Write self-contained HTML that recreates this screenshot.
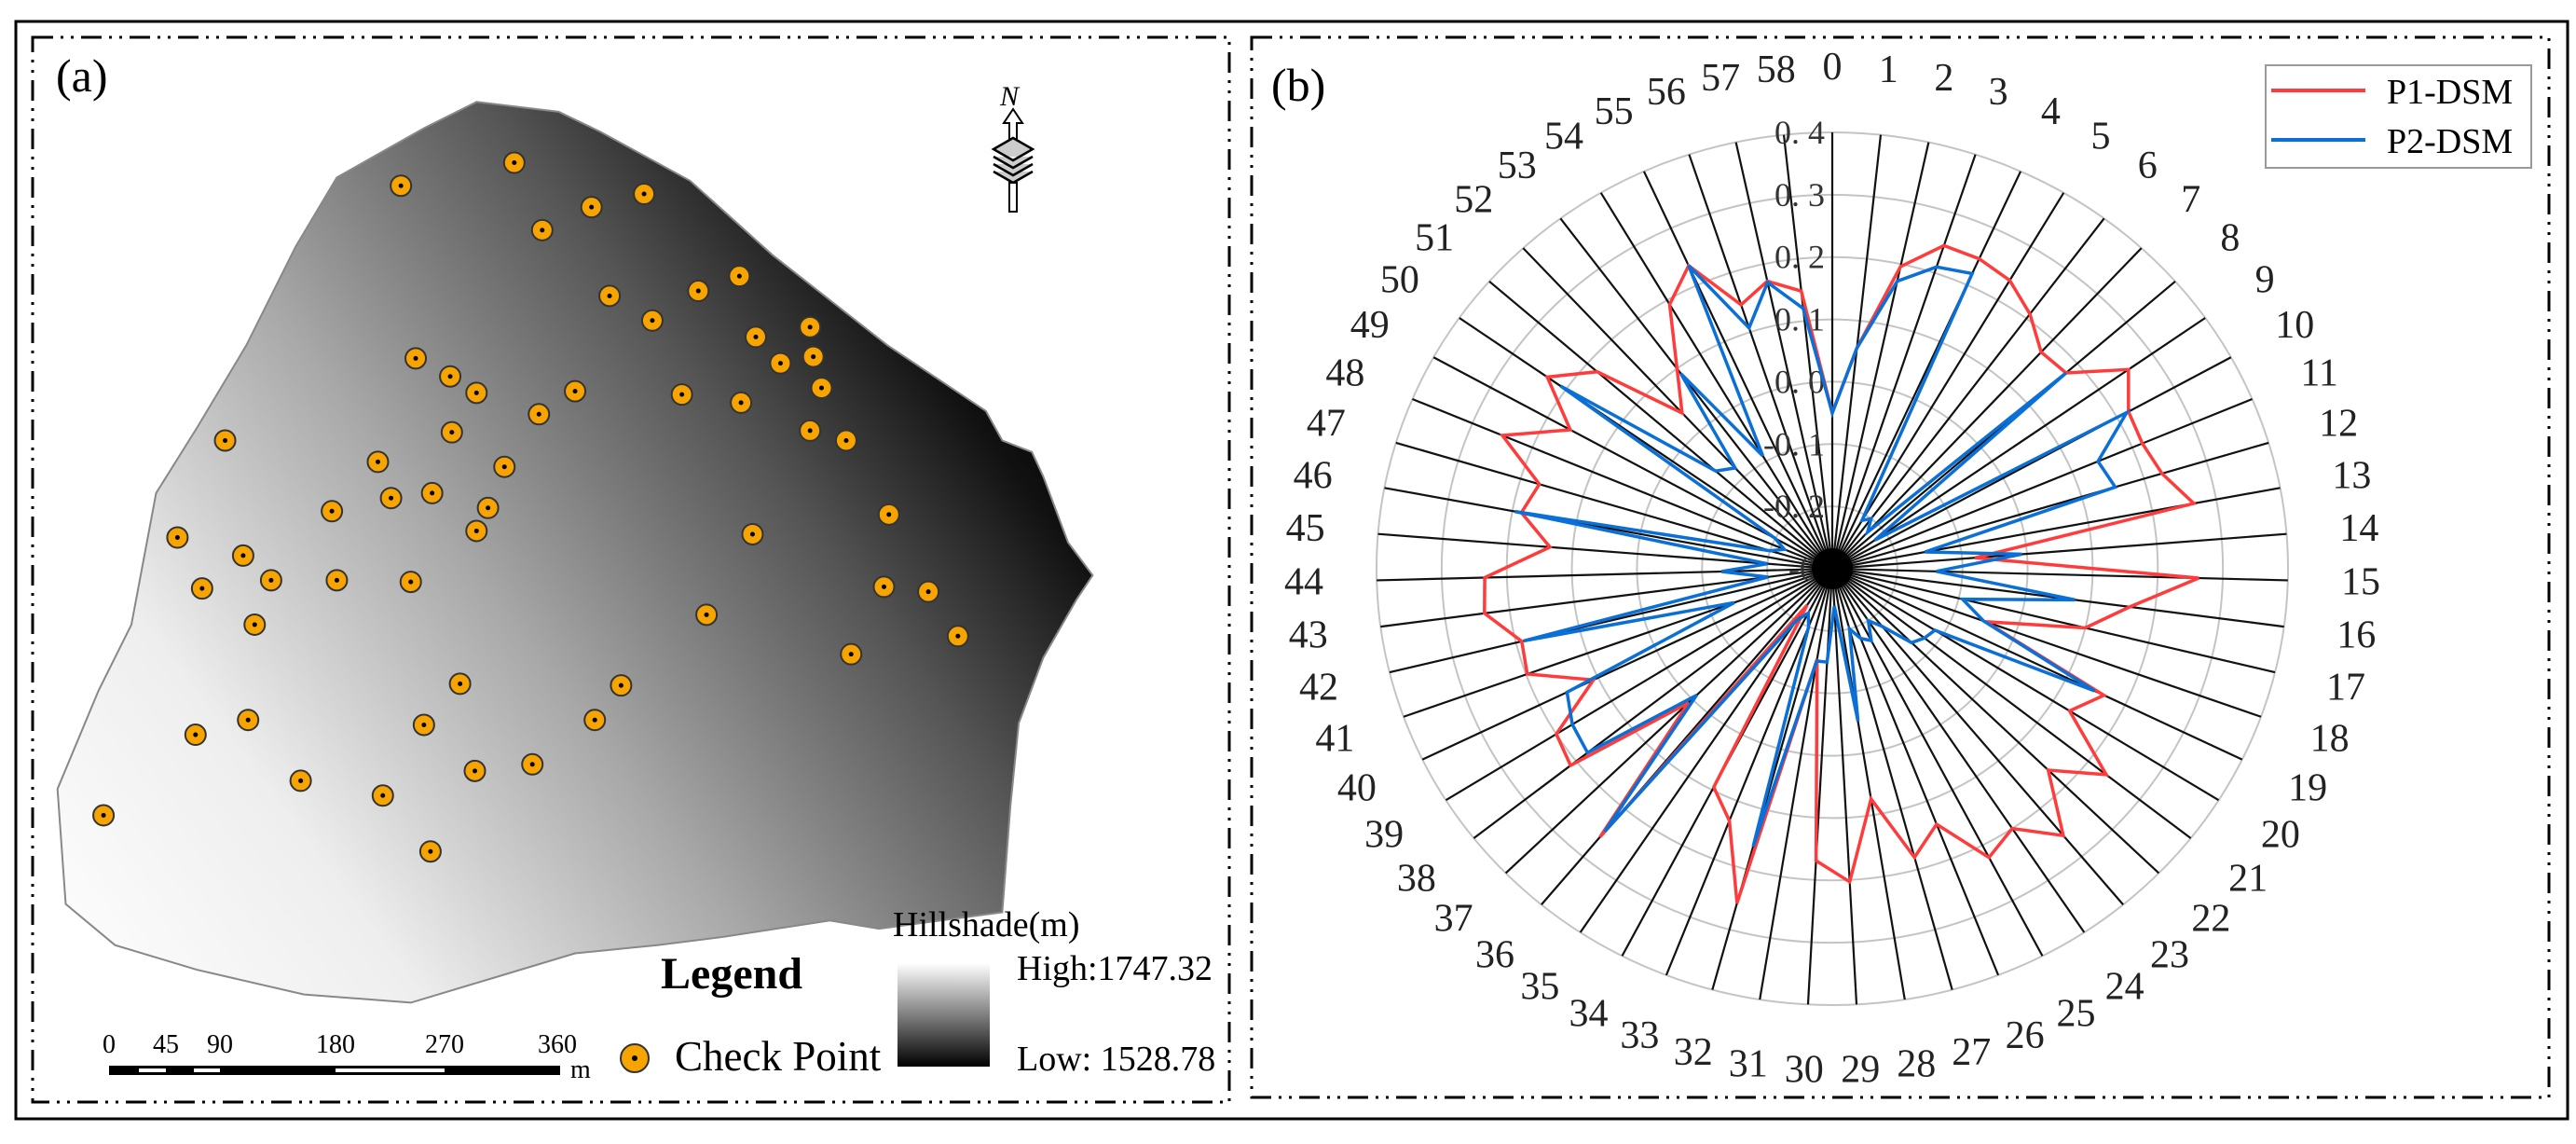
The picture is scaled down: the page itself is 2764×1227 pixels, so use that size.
<!DOCTYPE html>
<html><head><meta charset="utf-8"><style>
html,body{margin:0;padding:0;background:#fff}
svg{display:block}
text{font-family:"Liberation Serif",serif}
</style></head><body>
<svg id="root" width="2764" height="1227" viewBox="0 0 2764 1227" xmlns="http://www.w3.org/2000/svg">
<defs>
<linearGradient id="dem" x1="0.0" y1="1.0" x2="1" y2="0.35">
<stop offset="0" stop-color="#ffffff"/><stop offset="0.25" stop-color="#eeeeee"/>
<stop offset="0.5" stop-color="#a8a8a8"/><stop offset="0.75" stop-color="#555"/><stop offset="0.92" stop-color="#111"/><stop offset="1" stop-color="#000"/>
</linearGradient>
<linearGradient id="cbar" x1="0" y1="0" x2="0" y2="1"><stop offset="0" stop-color="#fff"/><stop offset="1" stop-color="#000"/></linearGradient>
</defs>
<rect x="17" y="23" width="2738" height="1177" fill="none" stroke="#000" stroke-width="3"/>
<rect x="35" y="40" width="1284" height="1142" fill="none" stroke="#000" stroke-width="3" stroke-dasharray="22,8,3,8,3,8"/>
<rect x="1343" y="40" width="1392" height="1137" fill="none" stroke="#000" stroke-width="3" stroke-dasharray="22,8,3,8,3,8"/>
<text x="60" y="98" font-size="50">(a)</text>
<text x="1364" y="108" font-size="50">(b)</text>

<g id="map"></g>
<g>
<text x="1073" y="113" font-size="30" font-style="italic" font-family="Liberation Sans">N</text>
<path d="M1087 117 L1097 132 L1091 132 L1091 150 L1083 150 L1083 132 L1077 132 Z" fill="#fff" stroke="#000" stroke-width="2"/>
<path d="M1066 160 L1087 148 L1108 160 L1087 172 Z M1066 168 L1087 180 L1108 168 M1066 176 L1087 188 L1108 176 M1066 184 L1087 196 L1108 184" fill="#ccc" stroke="#000" stroke-width="2.5"/>
<rect x="1083" y="196" width="8" height="31" fill="#fff" stroke="#000" stroke-width="2"/>
</g>
<text x="709" y="1060" font-size="48" font-weight="bold">Legend</text>
<text x="958" y="1004" font-size="38">Hillshade(m)</text>
<rect x="963" y="1033" width="99" height="111" fill="url(#cbar)"/>
<text x="1091" y="1051" font-size="38">High:1747.32</text>
<text x="1091" y="1148" font-size="38">Low: 1528.78</text>
<g>
<circle cx="681" cy="1135" r="15" fill="#f7a400" stroke="#333" stroke-width="2"/><circle cx="681" cy="1135" r="3" fill="#000"/>
<text x="724" y="1148" font-size="45">Check Point</text></g>
<g id="scalebar">
<rect x="117" y="1143" width="484" height="10" fill="#000"/>
<rect x="149" y="1146" width="29" height="4" fill="#fff"/><rect x="208" y="1146" width="28" height="4" fill="#fff"/><rect x="360" y="1146" width="117" height="4" fill="#fff"/>
<g font-size="28" text-anchor="middle"><text x="117" y="1129">0</text><text x="178" y="1129">45</text><text x="236" y="1129">90</text><text x="360" y="1129">180</text><text x="477" y="1129">270</text><text x="598" y="1129">360</text></g>
<text x="612" y="1156" font-size="28">m</text></g>

<g id="radar"></g>
<g>
<rect x="2431" y="70" width="285" height="110" fill="#fff" stroke="#999" stroke-width="2"/>
<line x1="2437" y1="97" x2="2538" y2="97" stroke="#ff3b3b" stroke-width="4"/>
<line x1="2437" y1="150" x2="2538" y2="150" stroke="#0a6fd6" stroke-width="4"/>
<text x="2561" y="111" font-size="38" font-family="Liberation Mono">P1-DSM</text>
<text x="2561" y="164" font-size="38" font-family="Liberation Mono">P2-DSM</text>
</g>
</svg>
<script>
const categories = Array.from({length:59},(_,i)=>String(i));
const p1Values = [-0.05,0.056,0.196,0.246,0.246,0.237,0.209,0.173,0.177,0.256,0.22,0.217,0.229,0.265,-0.08,0.263,0.161,0.10,-0.05,0.164,0.13,0.235,0.163,0.256,0.20,0.222,0.14,0.18,0.074,0.203,0.169,-0.153,0.256,0.134,0.095,-0.23,0.259,0.008,0.211,0.20,0.108,0.198,0.191,0.239,0.234,0.135,0.186,0.17,0.25,0.16,0.235,0.18,0.04,0.10,0.192,0.234,0.146,0.172,0.148];
const p2Values = [-0.05,0.056,0.172,0.21,0.22,-0.21,-0.2,-0.22,0.177,-0.22,0.217,0.143,0.154,-0.155,-0.008,-0.14,0.076,-0.094,-0.053,0.148,-0.114,-0.12,-0.13,-0.18,-0.2,-0.17,-0.18,-0.2,-0.052,-0.24,-0.15,-0.15,0.162,-0.2,-0.22,-0.2,0.248,-0.009,0.178,0.171,0.153,-0.14,0.188,-0.2,-0.13,-0.2,0.196,-0.2,-0.22,-0.2,0.21,-0.062,-0.08,0.09,-0.09,0.234,0.107,0.17,0.12];
const ringTicks = [-0.2,-0.1,0.0,0.1,0.2,0.3,0.4];
const tickLabels = ["-0.","-0. 2","-0. 1","0. 0","0. 1","0. 2","0. 3","0. 4"];
const checkPointsX = [244,313,360,392,330,371,397,425,450,460,475,493,495,500,253,274,290,350,328,415,451,493,515,137,230,275,307,263,238,297,202,290,108,148,165,205,250,123,155,458,430,541,538,565,583,518,280,378,362,258,151,119,183,233,289,324,63,262];
const checkPointsY = [113,99,126,118,140,180,195,177,168,205,221,199,217,236,218,229,239,238,252,240,245,262,268,268,281,263,284,300,303,309,311,323,327,338,353,353,354,358,380,325,374,313,357,360,387,398,416,417,438,441,438,447,475,484,469,465,496,518];
const NS="http://www.w3.org/2000/svg";
function mk(tag,attrs,parent){const e=document.createElementNS(NS,tag);for(const k in attrs)e.setAttribute(k,attrs[k]);parent.appendChild(e);return e;}
const map=document.getElementById('map');
const outline=[[205,108],[258,78],[290,62],[340,68],[365,80],[420,110],[470,155],[540,210],[600,250],[610,268],[628,275],[635,290],[650,330],[665,350],[655,365],[635,400],[620,440],[615,490],[610,555],[535,565],[505,560],[440,570],[400,575],[350,580],[300,595],[250,610],[185,605],[120,590],[70,575],[40,550],[35,480],[60,420],[80,380],[95,300],[120,260],[150,210],[180,150]];
const S=1.763;
const shape=mk('polygon',{points:outline.map(p=>(p[0]*S).toFixed(1)+','+(p[1]*S).toFixed(1)).join(' '),fill:'url(#dem)',stroke:'#888','stroke-width':2},map);


for(let i=0;i<checkPointsX.length;i++){
  const g=mk('g',{},map);
  
  
  const x=checkPointsX[i]*S,y=checkPointsY[i]*S;
  mk('circle',{cx:x,cy:y,r:11,fill:'#f7a400',stroke:'#333','stroke-width':2},g);
  mk('circle',{cx:x,cy:y,r:2.5,fill:'#000'},g);
}
const radar=document.getElementById('radar');
const cx=1966,cy=610,RX=489,RY=468,vmin=-0.3,vmax=0.4;
const N=categories.length;
function ang(i){return i*2*Math.PI/N;}
function rScale(v){return (v-vmin)/(vmax-vmin);}
function pt(i,v){const f=rScale(v),a=ang(i);return [cx+RX*f*Math.sin(a),cy-RY*f*Math.cos(a)];}
for(const t of ringTicks){
  const f=rScale(t);
  const r=mk('ellipse',{cx:cx,cy:cy,rx:RX*f,ry:RY*f,fill:'none',stroke:'#c4c4c4','stroke-width':2},radar);
  
  
}
for(let i=0;i<N;i++){
  const p=pt(i,vmax);
  const l=mk('line',{x1:cx,y1:cy,x2:p[0],y2:p[1],stroke:'#111','stroke-width':2.2},radar);
  
  
  const a=ang(i);
  const t=mk('text',{x:cx+RX*1.16*Math.sin(a),y:cy-RY*1.15*Math.cos(a),'font-size':42,'text-anchor':'middle','dominant-baseline':'central',fill:'#222'},radar);
  
  
  t.textContent=categories[i];
}
const tickVals=[-0.3].concat(ringTicks);
tickVals.forEach((v,k)=>{
  const y=cy-RY*rScale(v);
  const t=mk('text',{x:cx-8,y:y,'font-size':36,'text-anchor':'end','dominant-baseline':'central',fill:'#333'},radar);
  
  
  t.textContent=tickLabels[k];
});
function series(vals,color,name){
  const pts=vals.map((v,i)=>pt(i,v));
  const p=mk('polygon',{points:pts.map(q=>q[0].toFixed(1)+','+q[1].toFixed(1)).join(' '),fill:'none',stroke:color,'stroke-width':3.5,'stroke-linejoin':'miter'},radar);
  
  
}
series(p1Values,'#ff3b3b','p1-dsm-series');
series(p2Values,'#0a6fd6','p2-dsm-series');
const hub=mk('circle',{cx:cx,cy:cy,r:22,fill:'#000'},radar);


</script>
</body></html>
